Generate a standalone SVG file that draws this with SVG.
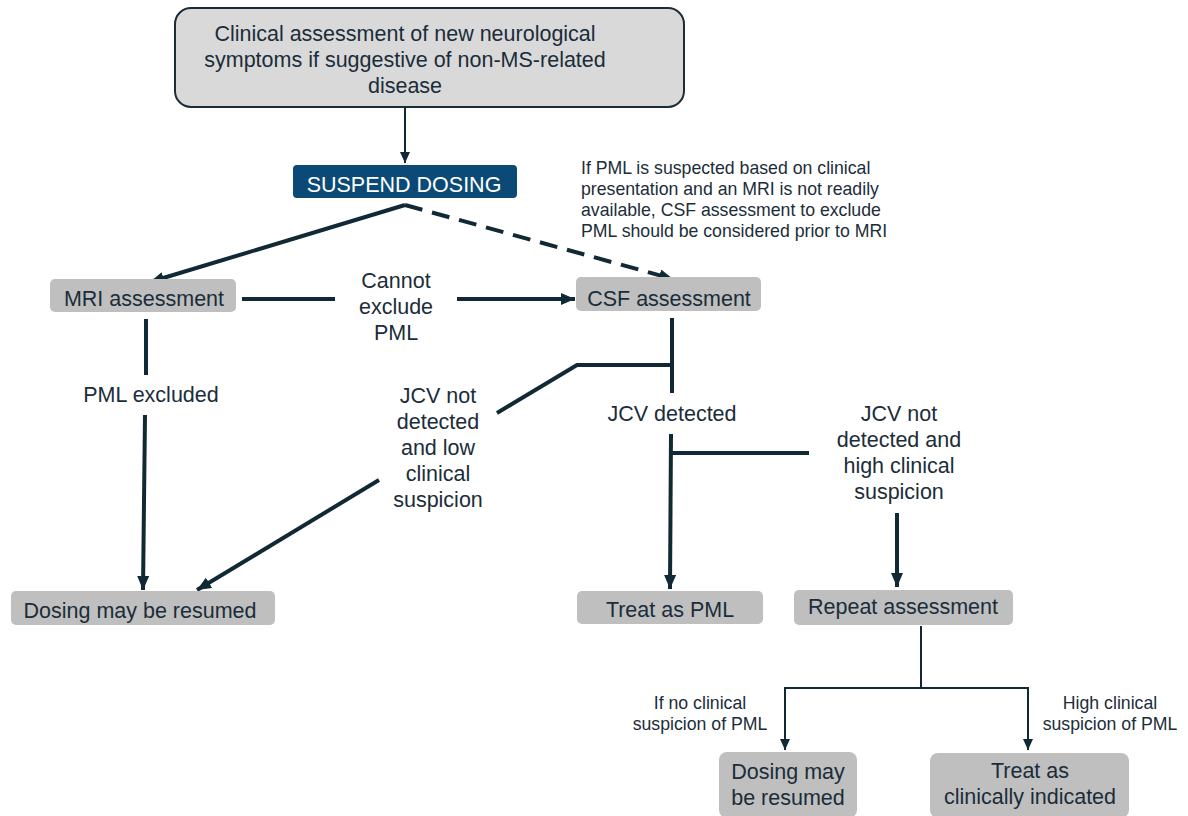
<svg xmlns="http://www.w3.org/2000/svg" width="1188" height="816" viewBox="0 0 1188 816">
<defs>
<style>
.t{font-family:"Liberation Sans",Arial,sans-serif;fill:#1b2d39;text-anchor:middle;font-size:21.5px}
.s{font-size:17.7px}
.b{fill:#bfbfbf}
.thick{stroke:#102935;stroke-width:4;fill:none}
.thin{stroke:#102935;stroke-width:2;fill:none}
</style>
<marker id="ah" markerUnits="userSpaceOnUse" markerWidth="14" markerHeight="12" refX="14" refY="6" orient="auto"><path d="M0,0 L14,6 L0,12 z" fill="#102935"/></marker>
<marker id="as" markerUnits="userSpaceOnUse" markerWidth="11" markerHeight="10" refX="11" refY="5" orient="auto"><path d="M0,0 L11,5 L0,10 z" fill="#102935"/></marker>
</defs>
<rect width="1188" height="816" fill="#ffffff"/>
<g id="connectors">
<line class="thin" x1="405" y1="108" x2="405" y2="163" marker-end="url(#as)"/>
<line class="thick" x1="405" y1="205" x2="150" y2="282" marker-end="url(#ah)"/>
<line class="thick" x1="405" y1="205" x2="673" y2="279" stroke-dasharray="18,10" marker-end="url(#ah)"/>
<line class="thick" x1="242" y1="299" x2="335" y2="299"/>
<line class="thick" x1="457" y1="299" x2="575" y2="299" marker-end="url(#ah)"/>
<line class="thick" x1="146" y1="319" x2="146" y2="375"/>
<line class="thick" x1="145" y1="415" x2="143" y2="590" marker-end="url(#ah)"/>
<line class="thick" x1="672" y1="318" x2="672" y2="393"/>
<polyline class="thick" points="672,365 577,365 497,413"/>
<line class="thick" x1="379" y1="480" x2="197" y2="590" marker-end="url(#ah)"/>
<line class="thick" x1="671" y1="434" x2="670" y2="589" marker-end="url(#ah)"/>
<line class="thick" x1="671" y1="453" x2="809" y2="453"/>
<line class="thick" x1="897" y1="513" x2="897" y2="587" marker-end="url(#ah)"/>
<line class="thin" x1="921" y1="626" x2="921" y2="688"/>
<polyline class="thin" points="785,750 785,688 1028,688 1028,750" fill="none"/>
<line class="thin" x1="785" y1="700" x2="785" y2="750" marker-end="url(#as)"/>
<line class="thin" x1="1028" y1="700" x2="1028" y2="750" marker-end="url(#as)"/>
</g>
<g id="n-clinical">
<rect x="175" y="8" width="509" height="99" rx="16" fill="#d9d9d9" stroke="#1b2d39" stroke-width="2"/>
<text class="t" x="405" y="41">Clinical assessment of new neurological</text>
<text class="t" x="405" y="67">symptoms if suggestive of non-MS-related</text>
<text class="t" x="405" y="93">disease</text>
</g>
<g id="n-suspend">
<rect x="293" y="165" width="224" height="33" rx="4" fill="#0b4a76"/>
<text class="t" x="404" y="192" style="fill:#ffffff">SUSPEND DOSING</text>
</g>
<g id="n-note">
<text class="t s" x="581" y="174" style="text-anchor:start">If PML is suspected based on clinical</text>
<text class="t s" x="581" y="195" style="text-anchor:start">presentation and an MRI is not readily</text>
<text class="t s" x="581" y="216" style="text-anchor:start">available, CSF assessment to exclude</text>
<text class="t s" x="581" y="237" style="text-anchor:start">PML should be considered prior to MRI</text>
</g>
<g id="n-mri">
<rect class="b" x="50" y="279" width="186" height="33" rx="5"/>
<text class="t" x="144" y="306">MRI assessment</text>
</g>
<g id="n-csf">
<rect class="b" x="576" y="277" width="185" height="34" rx="5"/>
<text class="t" x="669" y="306">CSF assessment</text>
</g>
<g id="l-cannot">
<text class="t" x="396" y="288">Cannot</text>
<text class="t" x="396" y="314">exclude</text>
<text class="t" x="396" y="340">PML</text>
</g>
<g id="l-excluded">
<text class="t" x="151" y="402">PML excluded</text>
</g>
<g id="l-low">
<text class="t" x="438" y="403">JCV not</text>
<text class="t" x="438" y="429">detected</text>
<text class="t" x="438" y="455">and low</text>
<text class="t" x="438" y="481">clinical</text>
<text class="t" x="438" y="507">suspicion</text>
</g>
<g id="l-detected">
<text class="t" x="672" y="421">JCV detected</text>
</g>
<g id="l-high">
<text class="t" x="899" y="421">JCV not</text>
<text class="t" x="899" y="447">detected and</text>
<text class="t" x="899" y="473">high clinical</text>
<text class="t" x="899" y="499">suspicion</text>
</g>
<g id="n-resume1">
<rect class="b" x="11" y="591" width="264" height="34" rx="5"/>
<text class="t" x="140" y="618">Dosing may be resumed</text>
</g>
<g id="n-treatpml">
<rect class="b" x="577" y="591" width="186" height="33" rx="5"/>
<text class="t" x="670" y="617">Treat as PML</text>
</g>
<g id="n-repeat">
<rect class="b" x="794" y="590" width="219" height="35" rx="5"/>
<text class="t" x="903" y="614">Repeat assessment</text>
</g>
<g id="l-noclin">
<text class="t s" x="700" y="709">If no clinical</text>
<text class="t s" x="700" y="730">suspicion of PML</text>
</g>
<g id="l-highclin">
<text class="t s" x="1110" y="709">High clinical</text>
<text class="t s" x="1110" y="730">suspicion of PML</text>
</g>
<g id="n-resume2">
<rect class="b" x="719" y="752" width="138" height="66" rx="8"/>
<text class="t" x="788" y="779">Dosing may</text>
<text class="t" x="788" y="805">be resumed</text>
</g>
<g id="n-clinind">
<rect class="b" x="930" y="753" width="199" height="65" rx="8"/>
<text class="t" x="1030" y="778">Treat as</text>
<text class="t" x="1030" y="804">clinically indicated</text>
</g>
</svg>
